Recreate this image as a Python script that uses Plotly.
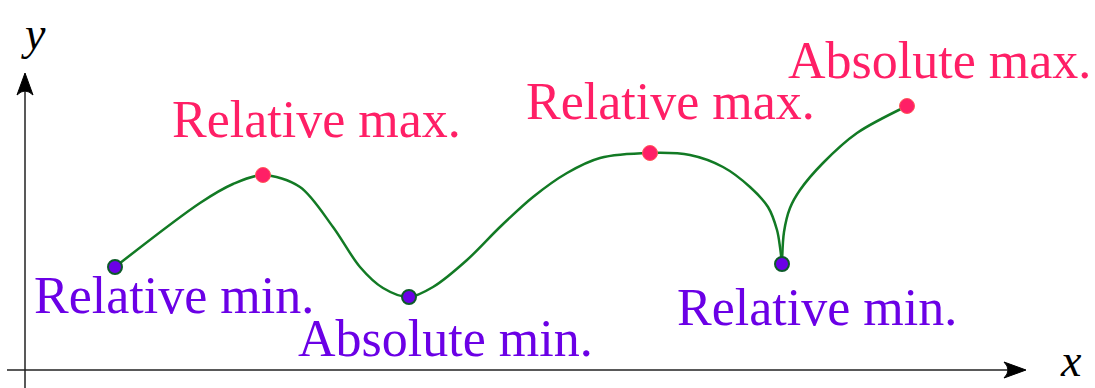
import plotly.graph_objects as go

W, H = 1095, 388

# Curve samples (x, y in picture units, y downward)
curve_left_x = [115, 200, 233, 263, 300, 333, 360, 383, 409, 433, 467, 500, 533, 567, 600, 650, 690, 723, 750, 768, 777, 780, 782]
curve_left_y = [267, 203, 184, 175, 187, 227, 267, 288, 297, 287, 260, 227, 197, 173, 158, 153, 155, 167, 187, 207, 230, 247, 264]
curve_right_x = [782, 784, 790, 800, 823, 857, 907]
curve_right_y = [264, 232, 208, 190, 163, 133, 106]

# Extremum points
min_x = [115, 409, 782]
min_y = [267, 297, 264]
max_x = [263, 650, 907]
max_y = [175, 153, 106]

# Labels
label_text = ["Relative min.", "Relative max.", "Absolute min.", "Relative max.", "Absolute max.", "Relative min."]
label_x = [174, 316, 445, 670, 939, 817]
label_y = [295, 119, 338, 101, 60, 307]
label_kind = ["min", "max", "min", "max", "max", "min"]

# Axes
axis_origin_x, axis_origin_y = 25, 370
y_axis_bottom, y_axis_top = 388, 73
x_axis_left, x_axis_right = 7, 1026

PURPLE = "#6b00e6"
RED = "#ff1f66"
GREEN = "#127a24"
BORDER = "#0d5a2a"

fig = go.Figure()
for cx, cy in [(curve_left_x, curve_left_y), (curve_right_x, curve_right_y)]:
    fig.add_trace(go.Scatter(x=cx, y=cy, mode="lines",
                             line=dict(color=GREEN, width=2.5, shape="spline", smoothing=0.9),
                             hoverinfo="skip"))
fig.add_trace(go.Scatter(x=max_x, y=max_y, mode="markers",
                         marker=dict(size=15, color=RED, line=dict(color="#ff5a5a", width=1))))
fig.add_trace(go.Scatter(x=min_x, y=min_y, mode="markers",
                         marker=dict(size=14, color=PURPLE, line=dict(color=BORDER, width=2))))

annotations = []
for t, x, y, k in zip(label_text, label_x, label_y, label_kind):
    annotations.append(dict(x=x, y=y, xref="x", yref="y", text=t, showarrow=False,
                            xanchor="center", yanchor="middle",
                            font=dict(family="Liberation Serif", size=52,
                                      color=PURPLE if k == "min" else RED)))
annotations.append(dict(x=33, y=33, xref="x", yref="y", text="<i>y</i>", showarrow=False,
                        font=dict(family="Liberation Serif", size=46, color="black")))
annotations.append(dict(x=1071, y=H, xref="x", yref="y", text="<i>x</i>", showarrow=False,
                        yanchor="bottom",
                        font=dict(family="Liberation Serif", size=46, color="black")))

shapes = [
    dict(type="line", x0=axis_origin_x, y0=y_axis_bottom, x1=axis_origin_x, y1=y_axis_top + 8,
         line=dict(color="#222", width=1.5)),
    dict(type="line", x0=x_axis_left, y0=axis_origin_y, x1=x_axis_right - 8, y1=axis_origin_y,
         line=dict(color="#222", width=1.5)),
]
# arrowheads
ax_, ay_ = axis_origin_x, y_axis_top
shapes.append(dict(type="path",
                   path=f"M {ax_} {ay_} L {ax_-8} {ay_+22} Q {ax_} {ay_+14} {ax_+8} {ay_+22} Z",
                   fillcolor="black", line=dict(color="black", width=1)))
bx_, by_ = x_axis_right, axis_origin_y
shapes.append(dict(type="path",
                   path=f"M {bx_} {by_} L {bx_-22} {by_-8} Q {bx_-14} {by_} {bx_-22} {by_+8} Z",
                   fillcolor="black", line=dict(color="black", width=1)))

fig.update_layout(
    width=W, height=H, margin=dict(l=0, r=0, t=0, b=0),
    paper_bgcolor="white", plot_bgcolor="white", showlegend=False,
    xaxis=dict(range=[0, W], visible=False, fixedrange=True),
    yaxis=dict(range=[H, 0], visible=False, fixedrange=True),
    annotations=annotations, shapes=shapes,
)
fig.write_html("out.html", config={"displayModeBar": False},
               post_script="document.body.style.margin='0';document.body.style.overflow='hidden';document.documentElement.style.overflow='hidden';")
